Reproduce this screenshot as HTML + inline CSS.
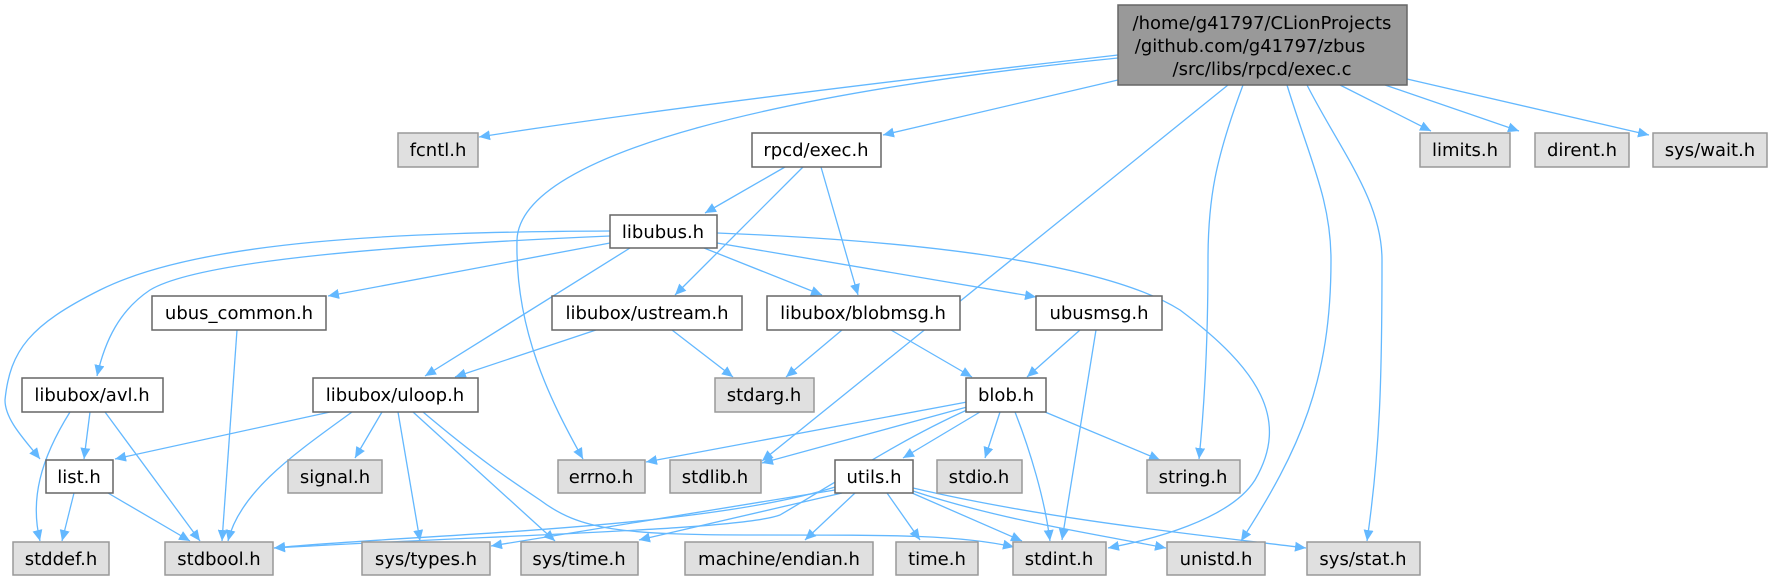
<!DOCTYPE html>
<html><head><meta charset="utf-8"><style>
html,body{margin:0;padding:0;background:#fff;}
svg{display:block;}
text{font-family:"DejaVu Sans","Liberation Sans",sans-serif;font-size:18px;fill:#000;text-anchor:middle;}
.w{fill:#fff;stroke:#666;stroke-width:1.5;}
.g{fill:#e0e0e0;stroke:#999;stroke-width:1.5;}
.m{fill:#999;stroke:#666;stroke-width:1.5;}
path.e{fill:none;stroke:#63b8ff;stroke-width:1.3;}
</style></head><body>
<svg width="1769" height="580" viewBox="0 0 1769 580" xmlns="http://www.w3.org/2000/svg">
<defs>
<marker id="a" markerUnits="userSpaceOnUse" markerWidth="12" markerHeight="10" refX="11" refY="5" orient="auto">
<path d="M0,0 L11,5 L0,10 Z" fill="#63b8ff"/>
</marker>
</defs>
<g marker-end="url(#a)">
<!-- main edges -->
<path class="e" d="M1118,55 C900,80 650,110 479,137"/>
<path class="e" d="M1118,58 C800,90 520,150 517,240 C515,330 550,400 583,459"/>
<path class="e" d="M1118,80 L883,135"/>
<path class="e" d="M1228,85 L762,461"/>
<path class="e" d="M1243,85 C1215,160 1208,200 1208,260 C1208,340 1205,400 1199,459"/>
<path class="e" d="M1287,85 C1310,160 1331,200 1331,260 C1331,380 1300,450 1241,541"/>
<path class="e" d="M1307,85 C1340,150 1382,200 1382,260 C1382,380 1380,450 1367,541"/>
<path class="e" d="M1340,85 L1431,131"/>
<path class="e" d="M1385,85 L1519,131"/>
<path class="e" d="M1407,79 L1649,135"/>
<!-- rpcd/exec.h -->
<path class="e" d="M785,167 L705,213"/>
<path class="e" d="M803,167 L675,295"/>
<path class="e" d="M821,167 L858,295"/>
<!-- libubus.h -->
<path class="e" d="M610,231 C400,232 200,240 100,290 C30,325 10,350 5,400 C5,420 25,440 40,459"/>
<path class="e" d="M610,236 C400,245 200,260 150,290 C120,310 105,340 97,376"/>
<path class="e" d="M610,243 L328,296"/>
<path class="e" d="M630,248 L425,376"/>
<path class="e" d="M704,248 L822,295"/>
<path class="e" d="M717,243 L1036,297"/>
<path class="e" d="M717,233 C900,240 1100,260 1180,310 C1260,370 1290,420 1255,480 C1230,520 1150,540 1108,548"/>
<!-- ustream / blobmsg / ubusmsg -->
<path class="e" d="M596,330 L455,377"/>
<path class="e" d="M672,330 L733,377"/>
<path class="e" d="M842,330 L786,377"/>
<path class="e" d="M891,330 L972,377"/>
<path class="e" d="M1080,330 L1027,377"/>
<path class="e" d="M1096,330 L1062,540"/>
<path class="e" d="M237,330 L222,541"/>
<!-- avl -->
<path class="e" d="M90,412 L84,459"/>
<path class="e" d="M70,412 C40,460 30,500 40,541"/>
<path class="e" d="M105,412 L200,541"/>
<!-- uloop -->
<path class="e" d="M330,412 L115,459"/>
<path class="e" d="M352,412 C300,450 240,490 228,541"/>
<path class="e" d="M382,412 L355,458"/>
<path class="e" d="M398,412 L420,541"/>
<path class="e" d="M413,412 L555,541"/>
<path class="e" d="M423,412 C480,460 510,480 540,500 C580,530 620,535 760,535 C900,535 960,535 1014,547"/>
<!-- list -->
<path class="e" d="M74,493 L62,541"/>
<path class="e" d="M108,493 L190,541"/>
<!-- blob -->
<path class="e" d="M967,402 L646,462"/>
<path class="e" d="M967,407 L762,463"/>
<path class="e" d="M967,410 C900,440 840,480 780,515 C740,530 500,535 274,548"/>
<path class="e" d="M980,412 L903,458"/>
<path class="e" d="M1000,412 L985,458"/>
<path class="e" d="M1015,412 C1030,450 1045,500 1050,541"/>
<path class="e" d="M1045,412 L1160,460"/>
<!-- utils -->
<path class="e" d="M835,487 C700,530 400,535 274,548"/>
<path class="e" d="M835,490 L491,546"/>
<path class="e" d="M842,493 L639,540"/>
<path class="e" d="M855,493 L805,540"/>
<path class="e" d="M887,493 L920,540"/>
<path class="e" d="M912,493 L1022,541"/>
<path class="e" d="M913,491 C1000,520 1100,535 1166,548"/>
<path class="e" d="M913,488 C1050,520 1200,535 1306,548"/>
</g>
<!-- nodes -->
<rect class="m" x="1118" y="5" width="289" height="80"/>
<text x="1262" y="29">/home/g41797/CLionProjects</text>
<text x="1250" y="52">/github.com/g41797/zbus</text>
<text x="1262" y="75">/src/libs/rpcd/exec.c</text>

<rect class="g" x="398" y="133" width="80" height="34"/><text x="438" y="156">fcntl.h</text>
<rect class="w" x="752" y="133" width="129" height="34"/><text x="816" y="156">rpcd/exec.h</text>
<rect class="g" x="1420" y="133" width="90" height="34"/><text x="1465" y="156">limits.h</text>
<rect class="g" x="1535" y="133" width="94" height="34"/><text x="1582" y="156">dirent.h</text>
<rect class="g" x="1653" y="133" width="114" height="34"/><text x="1710" y="156">sys/wait.h</text>

<rect class="w" x="610" y="215" width="107" height="33"/><text x="663" y="238">libubus.h</text>

<rect class="w" x="152" y="296" width="174" height="34"/><text x="239" y="319">ubus_common.h</text>
<rect class="w" x="552" y="296" width="190" height="34"/><text x="647" y="319">libubox/ustream.h</text>
<rect class="w" x="767" y="296" width="193" height="34"/><text x="863" y="319">libubox/blobmsg.h</text>
<rect class="w" x="1036" y="296" width="126" height="34"/><text x="1099" y="319">ubusmsg.h</text>

<rect class="w" x="22" y="378" width="141" height="34"/><text x="92" y="401">libubox/avl.h</text>
<rect class="w" x="313" y="378" width="165" height="34"/><text x="395" y="401">libubox/uloop.h</text>
<rect class="g" x="715" y="378" width="99" height="34"/><text x="764" y="401">stdarg.h</text>
<rect class="w" x="966" y="378" width="80" height="34"/><text x="1006" y="401">blob.h</text>

<rect class="w" x="46" y="460" width="67" height="33"/><text x="79" y="483">list.h</text>
<rect class="g" x="288" y="460" width="94" height="33"/><text x="335" y="483">signal.h</text>
<rect class="g" x="558" y="460" width="87" height="33"/><text x="601" y="483">errno.h</text>
<rect class="g" x="670" y="460" width="91" height="33"/><text x="715" y="483">stdlib.h</text>
<rect class="w" x="835" y="460" width="78" height="33"/><text x="874" y="483">utils.h</text>
<rect class="g" x="937" y="460" width="85" height="33"/><text x="979" y="483">stdio.h</text>
<rect class="g" x="1147" y="460" width="93" height="33"/><text x="1193" y="483">string.h</text>

<rect class="g" x="13" y="542" width="96" height="33"/><text x="61" y="565">stddef.h</text>
<rect class="g" x="165" y="542" width="108" height="33"/><text x="219" y="565">stdbool.h</text>
<rect class="g" x="362" y="542" width="128" height="33"/><text x="426" y="565">sys/types.h</text>
<rect class="g" x="521" y="542" width="117" height="33"/><text x="579" y="565">sys/time.h</text>
<rect class="g" x="685" y="542" width="188" height="33"/><text x="779" y="565">machine/endian.h</text>
<rect class="g" x="896" y="542" width="82" height="33"/><text x="937" y="565">time.h</text>
<rect class="g" x="1013" y="542" width="93" height="33"/><text x="1059" y="565">stdint.h</text>
<rect class="g" x="1167" y="542" width="98" height="33"/><text x="1216" y="565">unistd.h</text>
<rect class="g" x="1307" y="542" width="113" height="33"/><text x="1363" y="565">sys/stat.h</text>
</svg>
</body></html>
